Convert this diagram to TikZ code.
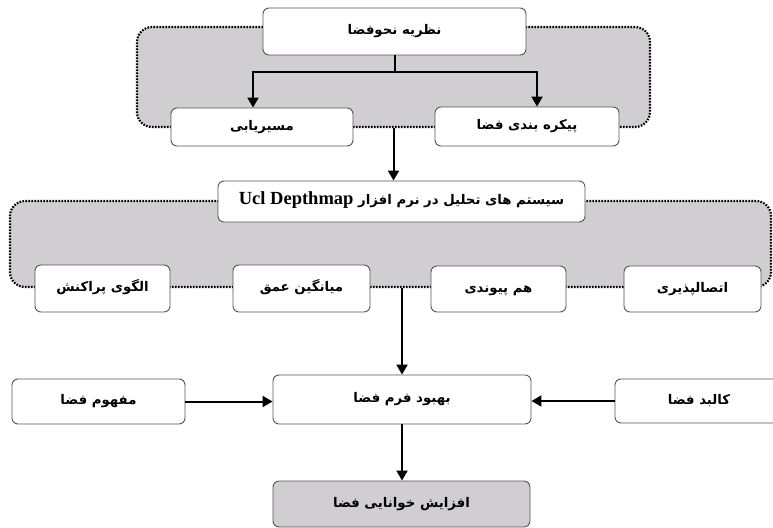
\documentclass[tikz,border=0pt]{standalone}
\usepackage{fontspec}
\TeXXeTstate=1
\newfontfamily\fa[Script=Arabic]{DejaVu Sans}
\newfontfamily\latf{Liberation Serif}
\usetikzlibrary{arrows.meta}
\definecolor{regiongray}{RGB}{208,206,208}
\definecolor{boxline}{RGB}{85,85,85}
\newcommand{\fatxt}[1]{\beginR #1\endR}
\tikzset{
  region/.style={fill=regiongray, draw=black, line width=2.2pt, dash pattern=on 1.6pt off 1.4pt, rounded corners=15pt, inner sep=0pt},
  box/.style={fill=white, draw=boxline, line width=0.9pt, rounded corners=6pt, inner sep=0pt, font=\fa\bfseries\fontsize{13.3}{15}\selectfont, text height=8pt, text depth=2pt},
  graybox/.style={box, fill=regiongray},
  arr/.style={line width=2pt, -{Triangle[length=10pt,width=11pt]}},
  ln/.style={line width=2pt}
}
\begin{document}
\begin{tikzpicture}[x=1pt,y=-1pt]
\useasboundingbox (0,0) rectangle (773,527);
% regions
\node[region, minimum width=513pt, minimum height=100pt] (g1) at (393.5,77) {};
\node[region, minimum width=761pt, minimum height=86pt] (g2) at (390.5,244) {};
% top group
\node[box, minimum width=263pt, minimum height=47pt] (top) at (394.5,31.5) {\fatxt{نظریه نحوفضا}};
\node[box, minimum width=182pt, minimum height=38pt] (route) at (262,127) {\fatxt{مسیریابی}};
\node[box, minimum width=184pt, minimum height=39pt] (config) at (527,126.5) {\fatxt{پیکره بندی فضا}};
\coordinate (fl) at (253,72);
\coordinate (fr) at (537,72);
\draw[ln] (top.south) -- (top.south |- fl);
\draw[arr] (top.south |- fl) -- (fl) -- (fl |- route.north);
\draw[arr] (top.south |- fl) -- (fr) -- (fr |- config.north);
% ucl
\node[box, minimum width=367pt, minimum height=41pt] (ucl) at (401.5,201.5) {\beginR سیستم های تحلیل در نرم افزار \beginL{\latf\bfseries\fontsize{18.5}{20}\selectfont Ucl Depthmap}\endL\endR};
\draw[arr] (g1.south) -- (g1.south |- ucl.north);
% second row
\node[box, minimum width=135pt, minimum height=47pt] (disp) at (102.5,288.5) {\fatxt{الگوی پراکنش}};
\node[box, minimum width=137pt, minimum height=47pt] (depth) at (301.5,288.5) {\fatxt{میانگین عمق}};
\node[box, minimum width=135pt, minimum height=46pt] (integ) at (498.5,289) {\fatxt{هم پیوندی}};
\node[box, minimum width=137pt, minimum height=46pt] (conn) at (692.5,289) {\fatxt{اتصالپذیری}};
% third row
\node[box, minimum width=258pt, minimum height=49pt] (imp) at (402,399.5) {\fatxt{بهبود فرم فضا}};
\node[box, minimum width=173pt, minimum height=45pt] (concept) at (98.5,401.5) {\fatxt{مفهوم فضا}};
\node[box, minimum width=168pt, minimum height=44pt] (body) at (699,401) {\fatxt{کالبد فضا}};
\draw[arr] (g2.south -| imp.north) -- (imp.north);
\draw[arr] (concept.east) -- (concept.east -| imp.west);
\draw[arr] (body.west) -- (body.west -| imp.east);
% result
\node[graybox, minimum width=257pt, minimum height=46pt] (legib) at (401.5,504) {\fatxt{افزایش خوانایی فضا}};
\draw[arr] (imp.south) -- (legib.north -| imp.south);
\end{tikzpicture}
\end{document}
